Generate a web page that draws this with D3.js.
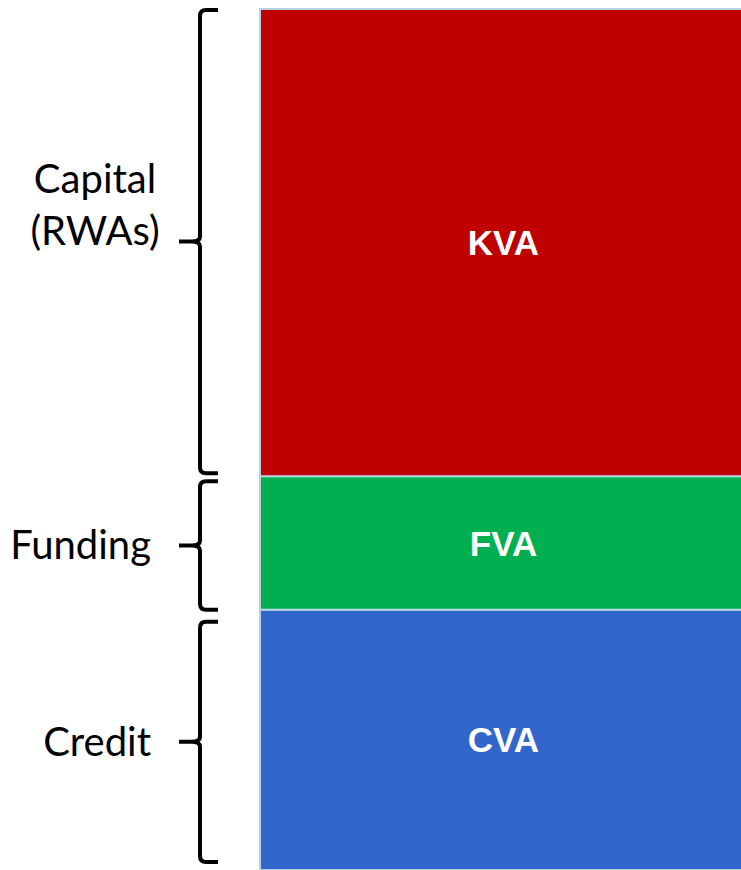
<!DOCTYPE html>
<html><head><meta charset="utf-8">
<script src="https://cdn.jsdelivr.net/npm/d3@7"></script>
<style>html,body{margin:0;padding:0;background:#fff;}</style>
</head><body>
<svg id="chart" width="741" height="870"></svg>
<script>
// Data (bottom to top)
const categories = ["CVA", "FVA", "KVA"];
const values = [1.95, 1.0, 3.5];
const groupLabels = [["Credit"], ["Funding"], ["Capital", "(RWAs)"]];
const colors = ["#3366CC", "#00B050", "#C00000"];

const W = 741, H = 870;
const svg = d3.select("#chart");
const total = d3.sum(values);
const y = d3.scaleLinear().domain([0, total]).range([H, 9]);
const x = d3.scaleBand().domain(["stack"]).range([260, 741]).padding(0);

let acc = 0;
const segs = categories.map((c, i) => {
  const s = {cat: c, v: values[i], y0: acc, y1: acc + values[i], color: colors[i], label: groupLabels[i]};
  acc += values[i];
  return s;
});

// Bars
svg.selectAll("rect.seg").data(segs).join("rect")
  .attr("class", "seg")
  .attr("x", x("stack"))
  .attr("width", x.bandwidth() + 4)
  .attr("y", d => y(d.y1))
  .attr("height", d => y(d.y0) - y(d.y1))
  .attr("fill", d => d.color)
  .attr("stroke", "#b7d3de")
  .attr("stroke-width", 2);

// Segment labels
svg.selectAll("text.seglab").data(segs).join("text")
  .attr("class", "seglab")
  .attr("x", x("stack") + x.bandwidth() / 2 + 3)
  .attr("y", d => (y(d.y0) + y(d.y1)) / 2)
  .attr("dy", "0.36em")
  .attr("text-anchor", "middle")
  .attr("fill", "#fff")
  .attr("font-family", "Liberation Sans, Arial, sans-serif")
  .attr("font-weight", "bold")
  .attr("font-size", 35)
  .text(d => d.cat);

// Braces
const insets = [[8, 12], [0, 5], [3, 1]]; // [bottom, top] px
const bx = 200, arm = 18, tip = 21, r = 6;
svg.selectAll("path.brace").data(segs).join("path")
  .attr("class", "brace")
  .attr("fill", "none")
  .attr("stroke", "#000")
  .attr("stroke-width", 4)
  .attr("d", (d, i) => {
    const yT = y(d.y1) + insets[i][1];
    const yB = y(d.y0) - insets[i][0];
    const ym = (yT + yB) / 2;
    return `M${bx + arm},${yT} H${bx + r} Q${bx},${yT} ${bx},${yT + r} V${ym - 5} Q${bx},${ym} ${bx - 8},${ym} H${bx - tip}` +
           ` M${bx - 8},${ym} Q${bx},${ym} ${bx},${ym + 5} V${yB - r} Q${bx},${yB} ${bx + r},${yB} H${bx + arm}`;
  });

// Group labels
svg.selectAll("text.grp").data(segs).join("text")
  .attr("class", "grp")
  .attr("font-family", "Lato, 'Open Sans', sans-serif")
  .attr("font-size", 40)
  .attr("fill", "#000")
  .attr("text-anchor", d => d.label.length > 1 ? "middle" : "end")
  .each(function(d, i) {
    const ym = (y(d.y0) - insets[i][0] + y(d.y1) + insets[i][1]) / 2;
    const t = d3.select(this);
    const n = d.label.length;
    const lh = 52;
    const shift = n > 1 ? -37 : 0;
    d.label.forEach((l, k) => {
      t.append("tspan")
        .attr("x", n > 1 ? 95 : 151)
        .attr("y", ym + shift + (k - (n - 1) / 2) * lh)
        .attr("dy", "0.35em")
        .text(l);
    });
  });
</script>
</body></html>
